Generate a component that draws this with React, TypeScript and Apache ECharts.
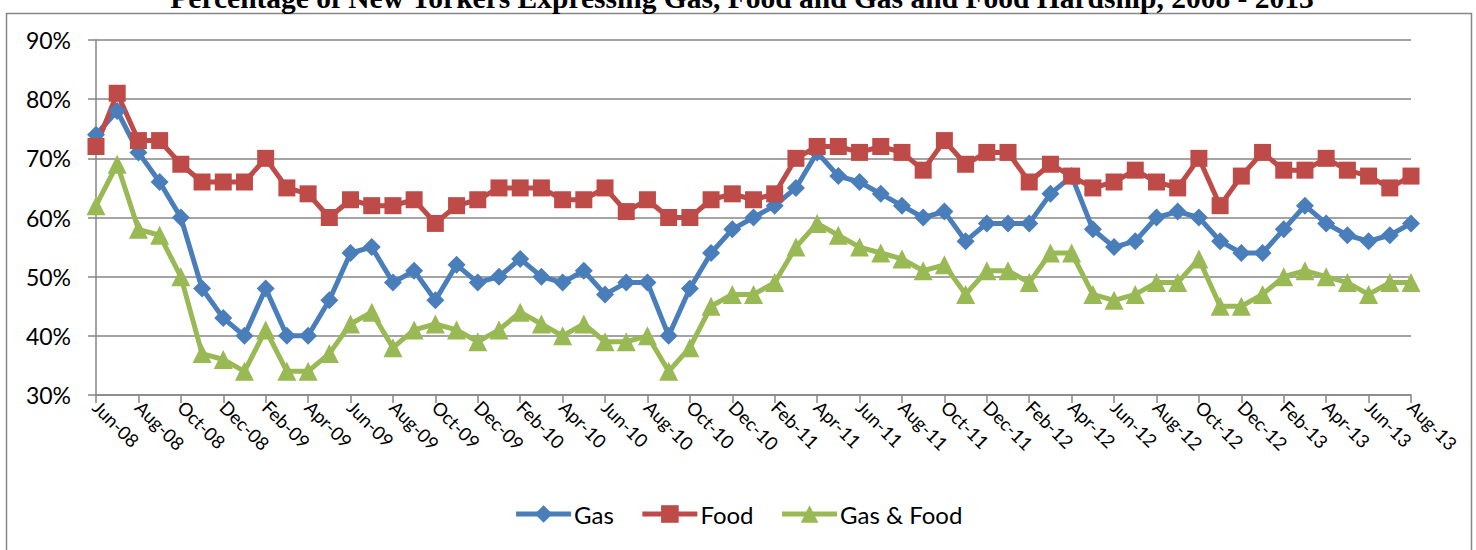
import React, { useEffect, useRef } from "react";
import * as echarts from "echarts";

const months = [
  "Jun-08", "Jul-08", "Aug-08", "Sep-08", "Oct-08", "Nov-08", "Dec-08",
  "Jan-09", "Feb-09", "Mar-09", "Apr-09", "May-09", "Jun-09", "Jul-09", "Aug-09", "Sep-09", "Oct-09", "Nov-09", "Dec-09",
  "Jan-10", "Feb-10", "Mar-10", "Apr-10", "May-10", "Jun-10", "Jul-10", "Aug-10", "Sep-10", "Oct-10", "Nov-10", "Dec-10",
  "Jan-11", "Feb-11", "Mar-11", "Apr-11", "May-11", "Jun-11", "Jul-11", "Aug-11", "Sep-11", "Oct-11", "Nov-11", "Dec-11",
  "Jan-12", "Feb-12", "Mar-12", "Apr-12", "May-12", "Jun-12", "Jul-12", "Aug-12", "Sep-12", "Oct-12", "Nov-12", "Dec-12",
  "Jan-13", "Feb-13", "Mar-13", "Apr-13", "May-13", "Jun-13", "Jul-13", "Aug-13",
];

const gas = [
  74, 78, 71, 66, 60, 48, 43,
  40, 48, 40, 40, 46, 54, 55, 49, 51, 46, 52, 49,
  50, 53, 50, 49, 51, 47, 49, 49, 40, 48, 54, 58,
  60, 62, 65, 71, 67, 66, 64, 62, 60, 61, 56, 59,
  59, 59, 64, 67, 58, 55, 56, 60, 61, 60, 56, 54,
  54, 58, 62, 59, 57, 56, 57, 59,
];

const food = [
  72, 81, 73, 73, 69, 66, 66,
  66, 70, 65, 64, 60, 63, 62, 62, 63, 59, 62, 63,
  65, 65, 65, 63, 63, 65, 61, 63, 60, 60, 63, 64,
  63, 64, 70, 72, 72, 71, 72, 71, 68, 73, 69, 71,
  71, 66, 69, 67, 65, 66, 68, 66, 65, 70, 62, 67,
  71, 68, 68, 70, 68, 67, 65, 67,
];

const gasAndFood = [
  62, 69, 58, 57, 50, 37, 36,
  34, 41, 34, 34, 37, 42, 44, 38, 41, 42, 41, 39,
  41, 44, 42, 40, 42, 39, 39, 40, 34, 38, 45, 47,
  47, 49, 55, 59, 57, 55, 54, 53, 51, 52, 47, 51,
  51, 49, 54, 54, 47, 46, 47, 49, 49, 53, 45, 45,
  47, 50, 51, 50, 49, 47, 49, 49,
];

const seriesNames = ["Gas", "Food", "Gas & Food"];
const title =
  "Percentage of New Yorkers Expressing Gas, Food and Gas and Food Hardship, 2008 - 2013";

const GRID = "#868686";
const FONT = "Lato, 'Open Sans', sans-serif";

export default function App() {
  const ref = useRef<HTMLDivElement>(null);

  useEffect(() => {
    if (!ref.current) return;
    const chart = echarts.init(ref.current, undefined, { renderer: "svg" });
    const mk = (
      name: string,
      data: number[],
      color: string,
      symbol: string,
      size: number | number[]
    ) => ({
      name,
      type: "line",
      data,
      symbol,
      symbolSize: size,
      showSymbol: true,
      showAllSymbol: true,
      lineStyle: { color, width: 5 },
      itemStyle: { color, borderWidth: 0 },
      emphasis: { disabled: true },
    });
    chart.setOption({
      animation: false,
      backgroundColor: "#ffffff",
      graphic: [
        {
          type: "rect",
          z: -1,
          shape: { x: 6.5, y: 13.5, width: 1465, height: 600 },
          style: { fill: "none", stroke: GRID, lineWidth: 1.5 },
        },
        {
          type: "text",
          x: 742,
          y: 13,
          style: {
            text: title,
            fill: "#000",
            font: "bold 29.5px 'Liberation Serif', 'Times New Roman', serif",
            align: "center",
            verticalAlign: "bottom",
          },
        },
      ],
      grid: { left: 96, right: 65, top: 40, bottom: 155, containLabel: false },
      legend: {
        data: seriesNames,
        left: "center",
        top: 497,
        itemWidth: 55,
        itemHeight: 22,
        itemGap: 26,
        lineStyle: { width: 5 },
        textStyle: { fontFamily: FONT, fontSize: 24, color: "#000", padding: [0, 0, 0, -2] },
      },
      xAxis: {
        type: "category",
        data: months,
        boundaryGap: false,
        axisLine: { lineStyle: { color: GRID, width: 1.5 } },
        axisTick: { show: true, interval: 1, length: 8, lineStyle: { color: GRID, width: 1.5 } },
        axisLabel: {
          interval: 1,
          rotate: -45,
          margin: 9,
          fontFamily: FONT,
          fontSize: 18.5,
          color: "#000",
        },
        splitLine: { show: false },
      },
      yAxis: {
        type: "value",
        min: 30,
        max: 90,
        interval: 10,
        axisLine: { show: true, lineStyle: { color: GRID, width: 1.5 } },
        axisTick: { show: true, length: 8, lineStyle: { color: GRID, width: 1.5 } },
        axisLabel: {
          formatter: "{value}%",
          margin: 25,
          fontFamily: FONT,
          fontSize: 23,
          color: "#000",
        },
        splitLine: { lineStyle: { color: GRID, width: 1.5 } },
      },
      series: [
        mk(seriesNames[0], gas, "#4A7EBB", "diamond", 18),
        mk(seriesNames[1], food, "#BE4B48", "rect", 17),
        mk(seriesNames[2], gasAndFood, "#98B954", "triangle", 19),
      ],
    });
    return () => chart.dispose();
  }, []);

  return (
    <div
      ref={ref}
      style={{ position: "fixed", left: 0, top: 0, width: 1476, height: 550, background: "#fff" }}
    />
  );
}
